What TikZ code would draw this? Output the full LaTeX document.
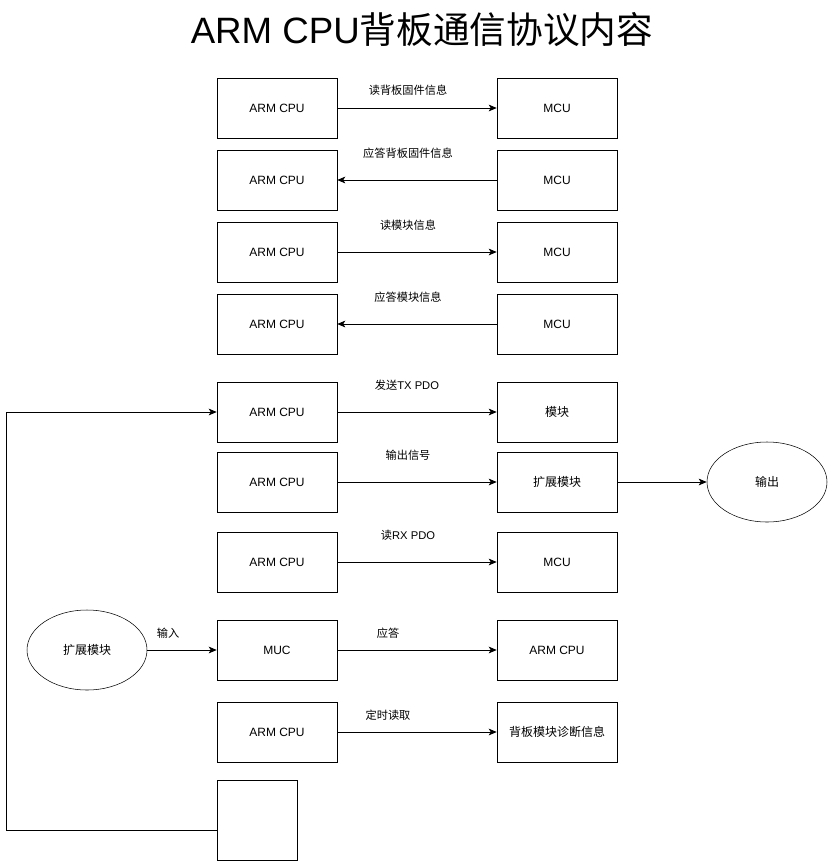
\documentclass[tikz,border=0pt]{standalone}
\usepackage{fontspec}
\setmainfont{Liberation Sans}
\newfontfamily\cjk{Noto Sans CJK SC}
\usetikzlibrary{arrows.meta,shapes.geometric}
\tikzset{
  box/.style={draw, minimum width=90pt, minimum height=45pt, inner sep=0pt, font=\fontsize{9}{11}\selectfont},
  oval/.style={draw, ellipse, minimum width=90pt, minimum height=60pt, inner sep=0pt, font=\fontsize{9}{11}\selectfont},
  msg/.style={font=\fontsize{8.4}{10}\selectfont, inner sep=0pt},
  link/.style={-{Stealth[length=6pt,width=5pt,inset=1.5pt]}, line width=0.6pt}
}
\begin{document}
\begin{tikzpicture}[x=0.75pt, y=-0.75pt]
\useasboundingbox (0,0) rectangle (828,861);
%title
\node (T) at (422,30) {\fontsize{27.5}{30}\selectfont ARM CPU{\cjk 背板通信协议内容}};
%left column
\node[box] (A1) at (277,108) {ARM CPU};
\node[box] (A2) at (277,180) {ARM CPU};
\node[box] (A3) at (277,252) {ARM CPU};
\node[box] (A4) at (277,324) {ARM CPU};
\node[box] (A5) at (277,412) {ARM CPU};
\node[box] (A6) at (277,482) {ARM CPU};
\node[box] (A7) at (277,562) {ARM CPU};
\node[box] (A8) at (277,650) {MUC};
\node[box] (A9) at (277,732) {ARM CPU};
\node[box, minimum width=60pt, minimum height=60pt] (A10) at (257,820) {};
%right column
\node[box] (B1) at (557,108) {MCU};
\node[box] (B2) at (557,180) {MCU};
\node[box] (B3) at (557,252) {MCU};
\node[box] (B4) at (557,324) {MCU};
\node[box] (B5) at (557,412) {\cjk 模块};
\node[box] (B6) at (557,482) {\cjk 扩展模块};
\node[box] (B7) at (557,562) {MCU};
\node[box] (B8) at (557,650) {ARM CPU};
\node[box] (B9) at (557,732) {\cjk 背板模块诊断信息};
%ellipses
\node[oval] (C1) at (767,482) {\cjk 输出};
\node[oval] (C2) at (87,650) {\cjk 扩展模块};
%arrows
\draw[link] (A1) -- (B1);
\draw[link] (B2) -- (A2);
\draw[link] (A3) -- (B3);
\draw[link] (B4) -- (A4);
\draw[link] (A5) -- (B5);
\draw[link] (A6) -- (B6);
\draw[link] (B6) -- (C1);
\draw[link] (A7) -- (B7);
\draw[link] (C2) -- (A8);
\draw[link] (A8) -- (B8);
\draw[link] (A9) -- (B9);
\draw[link] ([yshift=-7.5pt]A10.west) -- ++(-210,0) |- (A5.west);
%labels
\node[msg] (L1) at (408,90) {\cjk 读背板固件信息};
\node[msg] (L2) at (408,153) {\cjk 应答背板固件信息};
\node[msg] (L3) at (408,225) {\cjk 读模块信息};
\node[msg] (L4) at (408,297) {\cjk 应答模块信息};
\node[msg] (L5) at (407,385) {{\cjk 发送}TX PDO};
\node[msg] (L6) at (408,455) {\cjk 输出信号};
\node[msg] (L7) at (408,535) {{\cjk 读}RX PDO};
\node[msg] (L8) at (388,633) {\cjk 应答};
\node[msg] (L9) at (388,715) {\cjk 定时读取};
\node[msg] (L10) at (168,633) {\cjk 输入};
\end{tikzpicture}
\end{document}
